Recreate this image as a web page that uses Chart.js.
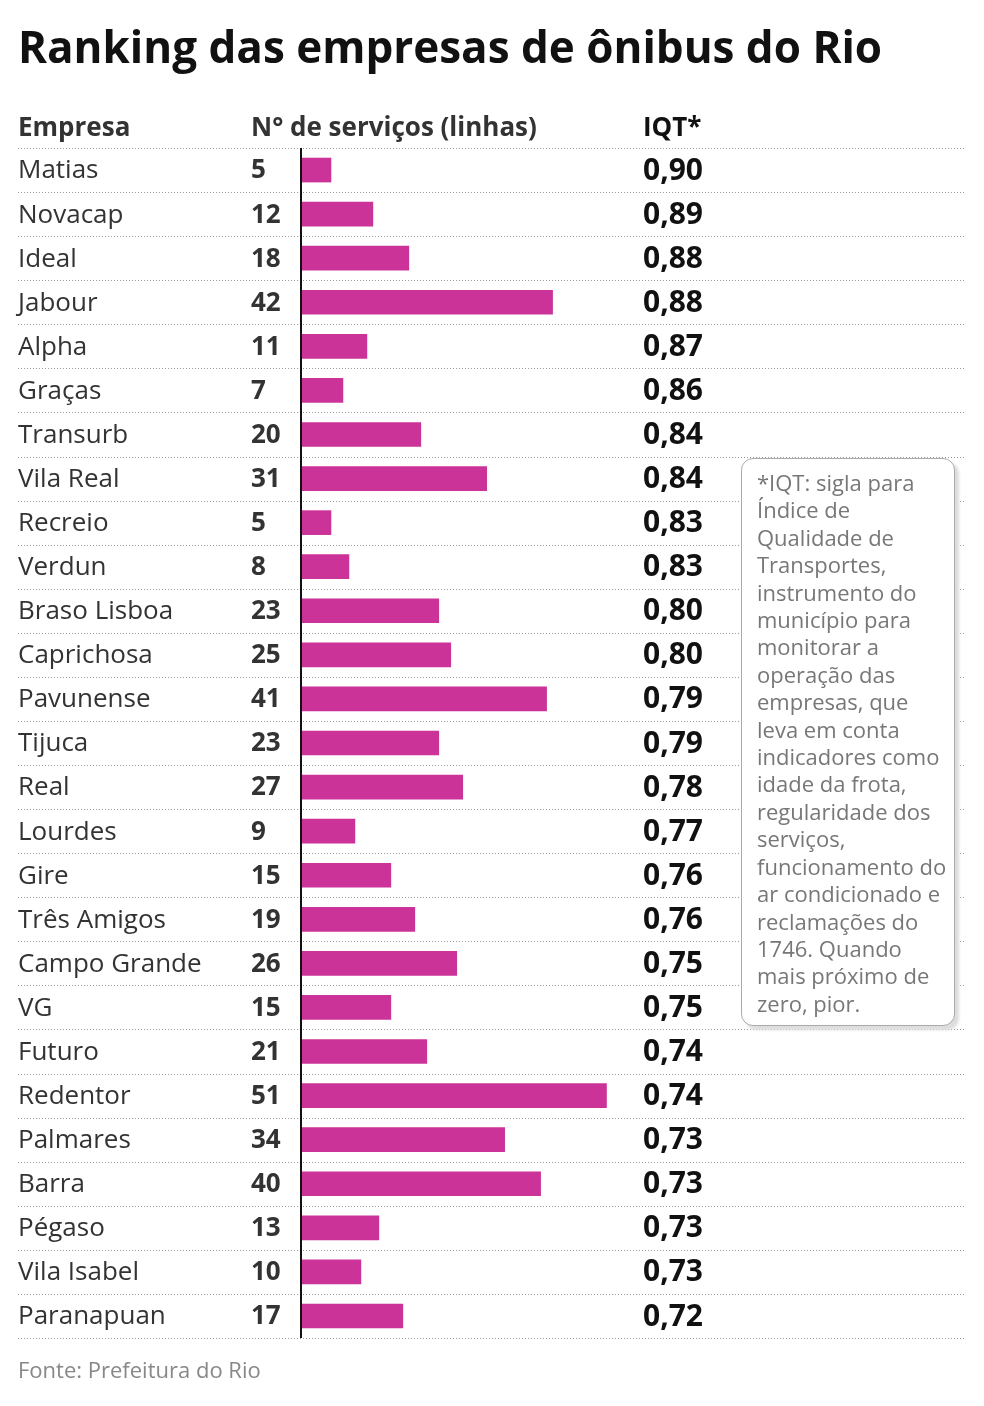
<!DOCTYPE html>
<html><head><meta charset="utf-8">
<script src="https://cdn.jsdelivr.net/npm/chart.js@4/dist/chart.umd.min.js"></script>
<style>
body{margin:0;background:#fff;font-family:"Open Sans",sans-serif;}
#wrap{position:relative;width:984px;height:1406px;}
canvas{position:absolute;left:0;top:0;}
.t{position:absolute;white-space:nowrap;}
#note{position:absolute;left:741px;top:458px;width:197px;height:546px;border:1.5px solid #aaa;border-radius:12px;padding:10px 0 10px 15px;
 font-size:22px;line-height:27.4px;color:#777;box-shadow:4px 4px 3px #ddd;background:#fff;}
</style></head><body>
<div id="wrap">
<canvas id="c" width="984" height="1406"></canvas>
<div class="t" style="left:18px;top:16px;font-size:44px;font-weight:700;color:#111">Ranking das empresas de ônibus do Rio</div>
<div class="t" style="left:18px;top:108px;font-size:26px;font-weight:700;color:#333">Empresa</div>
<div class="t" style="left:251px;top:108px;font-size:26px;font-weight:700;color:#333">N° de serviços (linhas)</div>
<div class="t" style="left:643px;top:108px;font-size:26px;font-weight:700;color:#111">IQT*</div>
<div class="t" style="left:18px;top:1354px;font-size:22px;color:#888">Fonte: Prefeitura do Rio</div>
<div id="note">*IQT: sigla para Índice de Qualidade de Transportes, instrumento do município para monitorar a operação das empresas, que leva em conta indicadores como idade da frota, regularidade dos serviços, funcionamento do ar condicionado e reclamações do 1746. Quando mais próximo de zero, pior.</div>
</div>
<script>
const empresas = ['Matias','Novacap','Ideal','Jabour','Alpha','Graças','Transurb','Vila Real','Recreio','Verdun','Braso Lisboa','Caprichosa','Pavunense','Tijuca','Real','Lourdes','Gire','Três Amigos','Campo Grande','VG','Futuro','Redentor','Palmares','Barra','Pégaso','Vila Isabel','Paranapuan']
const servicos = [5,12,18,42,11,7,20,31,5,8,23,25,41,23,27,9,15,19,26,15,21,51,34,40,13,10,17]
const iqt = ['0,90','0,89','0,88','0,88','0,87','0,86','0,84','0,84','0,83','0,83','0,80','0,80','0,79','0,79','0,78','0,77','0,76','0,76','0,75','0,75','0,74','0,74','0,73','0,73','0,73','0,73','0,72']

const tablePlugin = {
  id: 'table',
  afterDatasetsDraw(chart) {
    const ctx = chart.ctx, y = chart.scales.y, a = chart.chartArea
    const step = (a.bottom - a.top) / empresas.length
    ctx.save()
    ctx.strokeStyle = '#999'; ctx.lineWidth = 1; ctx.setLineDash([1, 2])
    for (let i = 0; i <= empresas.length; i++) {
      const yy = Math.round(a.top + i * step) + 0.5
      ctx.beginPath(); ctx.moveTo(18, yy); ctx.lineTo(966, yy); ctx.stroke()
    }
    ctx.setLineDash([])
    ctx.strokeStyle = '#111'; ctx.lineWidth = 2
    ctx.beginPath(); ctx.moveTo(a.left, a.top); ctx.lineTo(a.left, a.bottom); ctx.stroke()
    ctx.textBaseline = 'middle'
    empresas.forEach((e, i) => {
      const yy = y.getPixelForValue(i) + 1
      ctx.font = '26px "Open Sans"'; ctx.fillStyle = '#333'; ctx.fillText(e, 18, yy)
      ctx.font = 'bold 26px "Open Sans"'; ctx.fillText(servicos[i], 251, yy)
      ctx.font = 'bold 30px "Open Sans"'; ctx.fillStyle = '#111'; ctx.fillText(iqt[i], 643, yy)
    })
    ctx.restore()
  }
}

new Chart(document.getElementById('c'), {
  type: 'bar',
  data: { labels: empresas, datasets: [{ data: servicos, backgroundColor: '#cc3399', barThickness: 24 }] },
  options: {
    indexAxis: 'y', responsive: false, animation: false,
    layout: { padding: { left: 301, right: 84, top: 148, bottom: 68 } },
    plugins: { legend: { display: false }, tooltip: { enabled: false } },
    scales: { x: { display: false, min: 0, max: 100 }, y: { display: false } }
  },
  plugins: [tablePlugin]
})
</script>
</body></html>
